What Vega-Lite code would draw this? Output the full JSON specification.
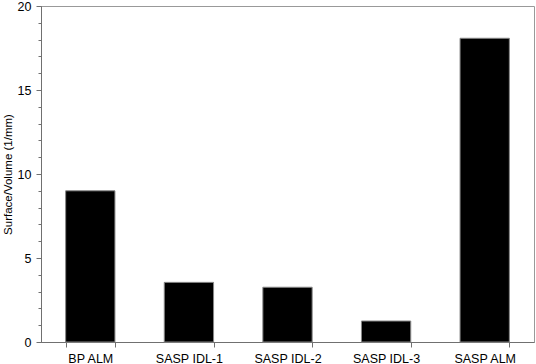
{
  "$schema": "https://vega.github.io/schema/vega-lite/v6.json",
  "width": 493,
  "height": 336,
  "autosize": "none",
  "padding": {"left": 41, "top": 6, "right": 2, "bottom": 22},
  "background": "white",
  "config": {
    "view": {"stroke": "#999999", "strokeWidth": 1},
    "font": "Liberation Sans",
    "axis": {"labelFont": "Liberation Sans", "titleFont": "Liberation Sans", "labelColor": "black", "titleColor": "black", "domainColor": "#707070", "tickColor": "#707070", "grid": false}
  },
  "data": {
    "values": [
      {"sample": "BP ALM", "sv": 9.0},
      {"sample": "SASP IDL-1", "sv": 3.55},
      {"sample": "SASP IDL-2", "sv": 3.26},
      {"sample": "SASP IDL-3", "sv": 1.25},
      {"sample": "SASP ALM", "sv": 18.08}
    ]
  },
  "encoding": {
    "x": {"field": "sample", "type": "nominal", "sort": null,
      "scale": {"paddingInner": 0.5, "paddingOuter": 0.25}},
    "y": {"field": "sv", "type": "quantitative", "scale": {"domain": [0, 20], "nice": false}}
  },
  "layer": [
    {
      "mark": {"type": "bar", "color": "black", "stroke": "#888888", "strokeWidth": 1},
      "encoding": {
        "x": {"field": "sample", "type": "nominal", "sort": null,
          "axis": {"title": null, "labelAngle": 0, "labelFontSize": 12.5, "labelPadding": 5, "tickSize": 5, "tickBand": "extent", "domainColor": "#707070"}},
        "y": {"field": "sv", "type": "quantitative",
          "axis": {"title": "Surface/Volume (1/mm)", "titleFontSize": 11.5, "titleFontWeight": "normal", "titlePadding": 4, "values": [0, 5, 10, 15, 20], "labelFontSize": 12.5, "tickSize": 5, "labelPadding": 5}}
      }
    },
    {
      "mark": {"type": "bar", "opacity": 0},
      "encoding": {
        "y": {"field": "sv", "type": "quantitative",
          "axis": {"orient": "left", "title": null, "labels": false, "domain": false, "tickSize": 3, "values": [0,1,2,3,4,5,6,7,8,9,10,11,12,13,14,15,16,17,18,19,20]}}
      }
    }
  ],
  "resolve": {"axis": {"y": "independent"}}
}
